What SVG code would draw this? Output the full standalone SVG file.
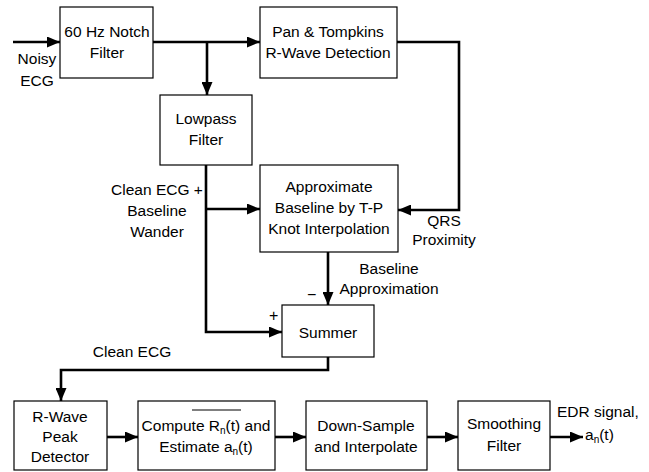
<svg xmlns="http://www.w3.org/2000/svg" width="649" height="472" viewBox="0 0 649 472">
<style>
.box{fill:#fff;stroke:#000;stroke-width:1.2}
text{font-family:"Liberation Sans",Arial,sans-serif;font-size:15.5px;fill:#000}
.c{text-anchor:middle}
.w{fill:none;stroke:#000;stroke-width:2.6;stroke-linejoin:miter}
.sub{font-size:10px}
</style>
<defs>
<marker id="ah" markerUnits="userSpaceOnUse" markerWidth="13" markerHeight="11" refX="13" refY="5.5" orient="auto">
<path d="M0,0 L13,5.5 L0,11 z" fill="#000"/>
</marker>
</defs>
<rect width="649" height="472" fill="#fff"/>
<g id="connectors">
<path class="w" d="M13,42 H60" marker-end="url(#ah)"/>
<path class="w" d="M153,42 H260" marker-end="url(#ah)"/>
<path class="w" d="M207,42 V95" marker-end="url(#ah)"/>
<path class="w" d="M397,42 H459 V210 H398" marker-end="url(#ah)"/>
<path class="w" d="M206,165 V332 H282" marker-end="url(#ah)"/>
<path class="w" d="M206,209 H260" marker-end="url(#ah)"/>
<path class="w" d="M328,252 V305" marker-end="url(#ah)"/>
<path class="w" d="M328,357 V370 H61 V401" marker-end="url(#ah)"/>
<path class="w" d="M107,437 H138" marker-end="url(#ah)"/>
<path class="w" d="M275,437 H306" marker-end="url(#ah)"/>
<path class="w" d="M427,437 H458" marker-end="url(#ah)"/>
<path class="w" d="M550,437 H583" marker-end="url(#ah)"/>
</g>
<g id="labels">
<text class="c" x="37" y="64">Noisy</text>
<text class="c" x="37" y="86">ECG</text>
<text class="c" x="157" y="195">Clean ECG +</text>
<text class="c" x="157" y="216">Baseline</text>
<text class="c" x="157" y="237">Wander</text>
<text class="c" x="444" y="226">QRS</text>
<text class="c" x="444" y="245">Proximity</text>
<text class="c" x="389" y="274">Baseline</text>
<text class="c" x="389" y="294">Approximation</text>
<text x="307" y="300" style="font-size:16px">−</text>
<text x="269" y="321" style="font-size:16px">+</text>
<text class="c" x="132" y="357">Clean ECG</text>
<text x="557" y="417">EDR signal,</text>
<text x="585" y="440">a<tspan class="sub" dy="3">n</tspan><tspan dy="-3">(t)</tspan></text>
</g>
<g id="notch">
<rect class="box" x="60" y="7" width="93" height="71"/>
<text class="c" x="107" y="37">60 Hz Notch</text>
<text class="c" x="107" y="58">Filter</text>
</g>
<g id="pantompkins">
<rect class="box" x="260" y="7" width="137" height="71"/>
<text class="c" x="328" y="37">Pan &amp; Tompkins</text>
<text class="c" x="328" y="58">R-Wave Detection</text>
</g>
<g id="lowpass">
<rect class="box" x="160" y="95" width="92" height="70"/>
<text class="c" x="206" y="124">Lowpass</text>
<text class="c" x="206" y="145">Filter</text>
</g>
<g id="approx">
<rect class="box" x="260" y="165" width="138" height="87"/>
<text class="c" x="329" y="192">Approximate</text>
<text class="c" x="329" y="213">Baseline by T-P</text>
<text class="c" x="329" y="234">Knot Interpolation</text>
</g>
<g id="summer">
<rect class="box" x="282" y="305" width="92" height="52"/>
<text class="c" x="328" y="338">Summer</text>
</g>
<g id="rwave">
<rect class="box" x="14" y="401" width="93" height="69"/>
<text class="c" x="60" y="422">R-Wave</text>
<text class="c" x="60" y="442">Peak</text>
<text class="c" x="60" y="462">Detector</text>
</g>
<g id="compute">
<rect class="box" x="138" y="401" width="137" height="69"/>
<text class="c" x="206" y="431">Compute R<tspan class="sub" dy="3">n</tspan><tspan dy="-3">(t) and</tspan></text>
<line x1="192" y1="410" x2="241" y2="410" stroke="#000" stroke-width="1.2"/>
<text class="c" x="206" y="452">Estimate a<tspan class="sub" dy="3">n</tspan><tspan dy="-3">(t)</tspan></text>
</g>
<g id="downsample">
<rect class="box" x="306" y="401" width="121" height="69"/>
<text class="c" x="366" y="431">Down-Sample</text>
<text class="c" x="366" y="452">and Interpolate</text>
</g>
<g id="smoothing">
<rect class="box" x="458" y="401" width="92" height="69"/>
<text class="c" x="504" y="429">Smoothing</text>
<text class="c" x="504" y="451">Filter</text>
</g>
</svg>
